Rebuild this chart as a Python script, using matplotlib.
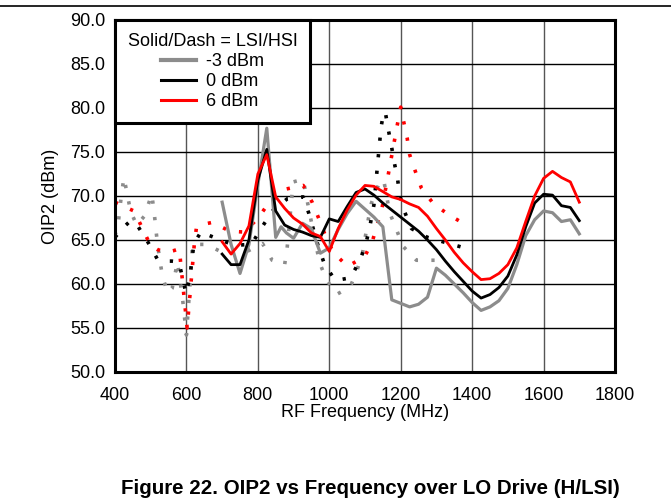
import matplotlib
matplotlib.use("Agg")
import matplotlib.pyplot as plt
from matplotlib.lines import Line2D

plt.rcParams['font.family'] = ['Liberation Sans', 'DejaVu Sans']

# LSI (solid) curves, RF frequency in MHz
lsi_freq = [700, 725, 750, 775, 800, 825, 850, 875, 900, 925, 950, 975, 1000,
            1025, 1050, 1075, 1100, 1125, 1150, 1175, 1200, 1225, 1250, 1275,
            1300, 1325, 1350, 1375, 1400, 1425, 1450, 1475, 1500, 1525, 1550,
            1575, 1600, 1625, 1650, 1675, 1700]
lsi_m3_freq = [700, 725, 750, 775, 800, 825, 850, 865, 880, 900, 925, 950, 975,
               1000, 1025, 1050, 1075, 1100, 1125, 1150, 1175, 1200, 1225, 1250,
               1275, 1300, 1325, 1350, 1375, 1400, 1425, 1450, 1475, 1500, 1525,
               1550, 1575, 1600, 1625, 1650, 1675, 1700]
lsi_m3 = [69.3, 64.5, 61.2, 64.5, 71.3, 77.7, 65.3, 66.5, 65.8, 65.2, 66.9, 66.3,
          63.5, 64.1, 66.2, 68.0, 69.4, 68.5, 67.6, 66.5, 58.2, 57.8, 57.4, 57.7,
          58.5, 61.8, 61.0, 60.0, 59.0, 57.9, 57.0, 57.4, 58.1, 59.5, 62.2, 65.5,
          67.3, 68.3, 68.1, 67.1, 67.3, 65.7]
lsi_0 = [63.4, 62.2, 62.2, 65.0, 71.8, 75.3, 68.3, 66.7, 66.2, 65.9, 65.5, 65.3,
         67.4, 67.1, 68.8, 70.4, 70.8, 70.1, 69.2, 68.4, 67.6, 66.8, 66.0, 65.0,
         63.9, 62.6, 61.4, 60.3, 59.2, 58.4, 58.8, 59.6, 60.9, 63.3, 66.5, 69.2,
         70.2, 70.1, 68.9, 68.7, 67.2]
lsi_6 = [64.8, 63.4, 64.6, 66.6, 72.5, 74.7, 69.9, 68.6, 67.5, 66.8, 65.8, 65.4,
         63.7, 66.3, 68.4, 70.1, 71.2, 71.1, 70.5, 69.9, 69.6, 69.1, 68.7, 67.7,
         66.3, 65.0, 63.6, 62.4, 61.4, 60.5, 60.6, 61.2, 62.2, 64.1, 67.1, 70.0,
         72.0, 72.8, 72.1, 71.6, 69.3]

# HSI (dashed) curves
hsi_m3_freq = [400, 409, 417, 425, 444, 461, 482, 503, 510, 519, 533, 548, 560,
               575, 590, 600, 610, 617, 656, 700, 760, 813, 840, 875, 882, 899,
               927, 936, 955, 973, 992, 1020, 1059, 1078, 1093, 1109, 1118, 1140,
               1152, 1169, 1188, 1206, 1244, 1290, 1300]
hsi_m3 = [65.5, 66.9, 69.8, 72.1, 68.2, 66.7, 67.7, 70.2, 68.0, 64.5, 60.8, 59.0,
          59.5, 62.5, 58.0, 54.2, 60.0, 64.5, 64.5, 63.6, 63.5, 64.6, 62.7, 62.2,
          64.1, 71.6, 71.9, 69.9, 66.0, 62.4, 60.5, 58.8, 59.7, 61.6, 63.5, 67.3,
          69.2, 71.5, 71.9, 68.1, 66.2, 64.3, 62.7, 62.7, 62.7]
hsi_0_freq = [400, 420, 444, 465, 493, 519, 540, 559, 579, 589, 599, 610, 621,
              642, 665, 689, 735, 782, 812, 843, 883, 927, 943, 969, 987, 1017,
              1059, 1085, 1102, 1113, 1125, 1135, 1145, 1152, 1157, 1165, 1174,
              1181, 1191, 1197, 1211, 1230, 1275, 1318, 1370]
hsi_0 = [65.3, 66.3, 67.2, 66.5, 64.7, 62.8, 62.6, 62.6, 62.5, 60.7, 58.9, 60.9,
         64.6, 66.0, 65.5, 65.1, 64.4, 64.5, 66.5, 68.4, 69.7, 69.9, 68.0, 64.3,
         62.2, 60.4, 60.7, 62.6, 64.5, 66.4, 69.0, 73.5, 77.8, 79.5, 79.5, 77.6,
         75.7, 74.0, 72.0, 70.1, 68.2, 66.3, 65.3, 64.8, 64.2]
hsi_6_freq = [400, 420, 453, 476, 498, 520, 543, 565, 580, 602, 622, 628, 650,
              672, 722, 762, 801, 832, 880, 927, 952, 971, 989, 1011, 1051, 1099,
              1121, 1148, 1165, 1191, 1200, 1208, 1218, 1225, 1241, 1258, 1292,
              1337, 1384]
hsi_6 = [69.3, 68.9, 68.3, 66.4, 64.5, 63.9, 63.6, 63.8, 64.0, 55.0, 64.5, 66.4,
         66.8, 67.0, 66.0, 65.9, 67.5, 69.3, 70.8, 71.2, 69.3, 67.4, 65.5, 63.6,
         62.0, 63.1, 64.9, 68.7, 72.4, 78.2, 80.1, 78.5, 76.6, 74.7, 72.8, 70.9,
         69.1, 67.8, 66.7]

x_ticks = [400, 600, 800, 1000, 1200, 1400, 1600, 1800]
y_ticks = [50, 55, 60, 65, 70, 75, 80, 85, 90]
labels = ['-3 dBm', '0 dBm', '6 dBm']
colors = ['#8c8c8c', 'black', '#ff0000']

fig = plt.figure(figsize=(6.71, 5.04), dpi=100)
ax = fig.add_axes([115/671, 1 - 372/504, 500/671, 352/504])

# dotted HSI lines first, solid LSI on top
dot = dict(lw=2.6, linestyle=(0, (0.9, 3.7)), dash_capstyle='butt')
ax.plot(hsi_m3_freq, hsi_m3, color=colors[0], **dot)
ax.plot(hsi_0_freq, hsi_0, color=colors[1], **dot)
ax.plot(hsi_6_freq, hsi_6, color=colors[2], **dot)

ax.plot(lsi_m3_freq, lsi_m3, color=colors[0], lw=2.3)
ax.plot(lsi_freq, lsi_0, color=colors[1], lw=2.0)
ax.plot(lsi_freq, lsi_6, color=colors[2], lw=2.0)

ax.set_xlim(400, 1800)
ax.set_ylim(50, 90)
ax.set_xticks(x_ticks)
ax.set_yticks(y_ticks)
ax.set_yticklabels(['%.1f' % v for v in y_ticks])
ax.tick_params(length=0, labelsize=13)
ax.tick_params(axis='y', pad=7)
ax.tick_params(axis='x', pad=11)
ax.xaxis.grid(True, color='#555555', lw=1.0)
ax.yaxis.grid(True, color='black', lw=1.0)
ax.set_axisbelow(True)
for s in ax.spines.values():
    s.set_linewidth(2.2)
    s.set_color('black')

ax.set_xlabel('RF Frequency (MHz)', fontsize=13, labelpad=0)
ax.set_ylabel('OIP2 (dBm)', fontsize=13, labelpad=8)

handles = [Line2D([], [], color=colors[0], lw=3.0),
           Line2D([], [], color=colors[1], lw=2.2),
           Line2D([], [], color=colors[2], lw=2.2)]
leg = ax.legend(handles, labels, title='Solid/Dash = LSI/HSI', loc='upper left',
                bbox_to_anchor=(0, 1), borderaxespad=0, fontsize=13,
                title_fontsize=13, handlelength=1.95, handletextpad=0.55,
                labelspacing=0.18, borderpad=0.7, fancybox=False,
                framealpha=1, edgecolor='black', alignment='center')
leg.get_frame().set_linewidth(2.2)

# rule across top of the page
fig.add_artist(Line2D([0, 1], [1 - 6/504, 1 - 6/504], color='black', lw=1.2))

fig.text(370/671, 1 - 489/504, 'Figure 22. OIP2 vs Frequency over LO Drive (H/LSI)',
         ha='center', va='center', fontsize=14.8, fontweight='bold')

fig.savefig('out.png', dpi=100)
